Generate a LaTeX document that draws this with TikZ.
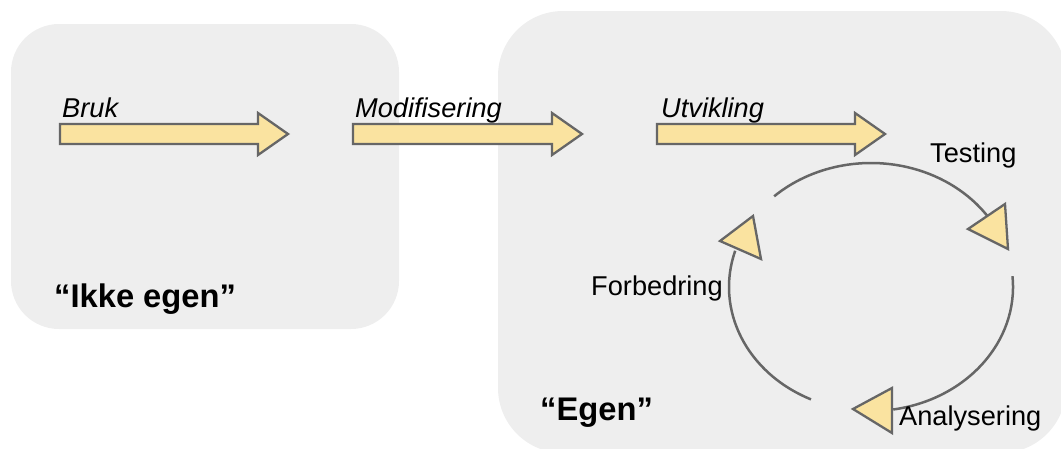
\documentclass[tikz,border=0pt]{standalone}
\usepackage{fontspec}
\setmainfont{Liberation Sans}
\definecolor{boxgray}{HTML}{EEEEEE}
\definecolor{arrowfill}{HTML}{FAE3A0}
\definecolor{linegray}{HTML}{666666}
\tikzset{
  panel/.style={fill=boxgray, draw=none},
  blockarrow/.style={fill=arrowfill, draw=linegray, line width=2.3pt, line join=miter},
  tri/.style={fill=arrowfill, draw=linegray, line width=2.3pt, line join=miter},
  cyc/.style={draw=linegray, line width=2.5pt},
  lbl/.style={inner sep=0pt, anchor=base west, font=\fontsize{27.2}{31}\selectfont},
  ilbl/.style={lbl, font=\fontsize{27.2}{31}\selectfont\itshape},
  blbl/.style={inner sep=0pt, anchor=base west, font=\fontsize{32.7}{38}\selectfont\bfseries}
}
\begin{document}
\begin{tikzpicture}[x=1pt,y=1pt]
\useasboundingbox (0,0) rectangle (1061,-448);
\clip (0,0) rectangle (1061,-448);
% panels
\path[panel, rounded corners=48pt] (11,-24) rectangle (399,-329);
\path[panel, rounded corners=65pt] (498,-11) rectangle (1066,-453);
% block arrows
\draw[blockarrow] (60,-124) -- (258,-124) -- (258,-113) -- (288,-134) -- (258,-155) -- (258,-144) -- (60,-144) -- cycle;
\draw[blockarrow] (353,-124) -- (552,-124) -- (552,-113) -- (582,-134) -- (552,-155) -- (552,-144) -- (353,-144) -- cycle;
\draw[blockarrow] (657,-124) -- (855,-124) -- (855,-113) -- (885,-134) -- (855,-155) -- (855,-144) -- (657,-144) -- cycle;
% arrow labels
\node[ilbl] (bruk) at (62,-117) {Bruk};
\node[ilbl] (modif) at (355,-117) {Modifisering};
\node[ilbl] (utv) at (661,-117) {Utvikling};
% cycle
\coordinate (c) at (871,-287);
\draw[cyc] ([shift={(133:142pt and 124pt)}]c) arc[start angle=133, end angle=35, x radius=142pt, y radius=124pt];
\draw[cyc] ([shift={(5:142pt and 124pt)}]c) arc[start angle=5, end angle=-81, x radius=142pt, y radius=124pt];
\draw[cyc] ([shift={(245:142pt and 124pt)}]c) arc[start angle=245, end angle=163, x radius=142pt, y radius=124pt];
\draw[tri] (968,-229) -- (1005,-204) -- (1008,-249) -- cycle;
\draw[tri] (853,-409) -- (892,-388) -- (892,-433) -- cycle;
\draw[tri] (720,-241) -- (753,-216) -- (761,-259) -- cycle;
% cycle labels
\node[lbl] (test) at (930,-162) {Testing};
\node[lbl] (forb) at (591,-295) {Forbedring};
\node[lbl] (anal) at (899,-425) {Analysering};
% panel labels
\node[blbl] (ikke) at (54,-307) {“Ikke egen”};
\node[blbl] (egen) at (540,-420) {“Egen”};
\end{tikzpicture}
\end{document}
